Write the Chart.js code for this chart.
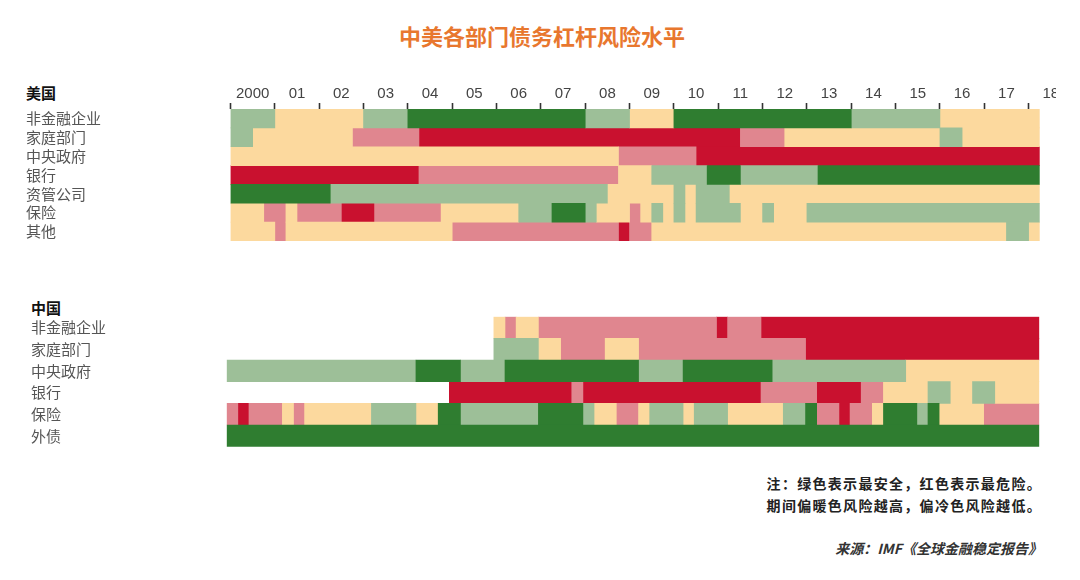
<!DOCTYPE html>
<html>
<head>
<meta charset="utf-8">
<script src="https://cdn.jsdelivr.net/npm/chart.js@4.4.1/dist/chart.umd.min.js"></script>
<style>
  html,body{margin:0;padding:0;background:#fff;}
  body{width:1080px;height:580px;position:relative;overflow:hidden;font-family:"Noto Sans CJK SC","Noto Sans",sans-serif;}
  .abs{position:absolute;white-space:nowrap;}
  #title{left:342px;width:400px;top:20px;text-align:center;font-size:22px;line-height:30px;font-weight:bold;color:#e8772e;}
  .country{font-size:15px;font-weight:bold;color:#111;line-height:20px;}
  .note{right:38px;font-size:14px;font-weight:bold;color:#222;line-height:20px;letter-spacing:1.3px;text-align:right;}
  #source{right:38px;top:538px;font-size:14px;font-weight:bold;font-style:italic;color:#333;line-height:20px;}
  canvas{position:absolute;left:0;}
</style>
</head>
<body>
<div id="title" class="abs">中美各部门债务杠杆风险水平</div>
<div class="abs country" style="left:26px;top:83px;">美国</div>
<div class="abs country" style="left:31px;top:298px;">中国</div>
<canvas id="us" width="1056" height="250" style="top:0;"></canvas>
<canvas id="cn" width="1056" height="160" style="top:300px;"></canvas>
<div class="abs note" style="top:473px;">注：绿色表示最安全，红色表示最危险。</div>
<div class="abs note" style="top:495px;">期间偏暖色风险越高，偏冷色风险越低。</div>
<div id="source" class="abs">来源：IMF《全球金融稳定报告》</div>

<script>
// ---- Data: quarterly risk level, 2000Q1 .. 2018Q1 (73 quarters)
// 1 = dark green (safest), 2 = light green, 3 = light yellow, 4 = pink, 5 = red (most risky), null = no data
const START_YEAR = 2000;
const YEARS = [2000,2001,2002,2003,2004,2005,2006,2007,2008,2009,2010,2011,2012,2013,2014,2015,2016,2017,2018];
const YEAR_LABELS = ['2000','01','02','03','04','05','06','07','08','09','10','11','12','13','14','15','16','17','18'];
const LEVEL_COLORS = ['#2f7d30','#9dbf98','#fcd99e','#e0868f','#c9112f'];

const US_ROWS = ['非金融企业','家庭部门','中央政府','银行','资管公司','保险','其他'];
const CN_ROWS = ['非金融企业','家庭部门','中央政府','银行','保险','外债'];

const _ = null;
const usNonFinancial = [2,2,2,2, 3,3,3,3, 3,3,3,3, 2,2,2,2, 1,1,1,1, 1,1,1,1, 1,1,1,1, 1,1,1,1, 2,2,2,2, 3,3,3,3, 1,1,1,1, 1,1,1,1, 1,1,1,1, 1,1,1,1, 2,2,2,2, 2,2,2,2, 3,3,3,3, 3,3,3,3, 3];
const usHousehold   = [2,2,3,3, 3,3,3,3, 3,3,3,4, 4,4,4,4, 4,5,5,5, 5,5,5,5, 5,5,5,5, 5,5,5,5, 5,5,5,5, 5,5,5,5, 5,5,5,5, 5,5,4,4, 4,4,3,3, 3,3,3,3, 3,3,3,3, 3,3,3,3, 2,2,3,3, 3,3,3,3, 3];
const usGovernment  = [3,3,3,3, 3,3,3,3, 3,3,3,3, 3,3,3,3, 3,3,3,3, 3,3,3,3, 3,3,3,3, 3,3,3,3, 3,3,3,4, 4,4,4,4, 4,4,5,5, 5,5,5,5, 5,5,5,5, 5,5,5,5, 5,5,5,5, 5,5,5,5, 5,5,5,5, 5,5,5,5, 5];
const usBanks       = [5,5,5,5, 5,5,5,5, 5,5,5,5, 5,5,5,5, 5,4,4,4, 4,4,4,4, 4,4,4,4, 4,4,4,4, 4,4,4,3, 3,3,2,2, 2,2,2,1, 1,1,2,2, 2,2,2,2, 2,1,1,1, 1,1,1,1, 1,1,1,1, 1,1,1,1, 1,1,1,1, 1];
const usAssetMgmt   = [1,1,1,1, 1,1,1,1, 1,2,2,2, 2,2,2,2, 2,2,2,2, 2,2,2,2, 2,2,2,2, 2,2,2,2, 2,2,3,3, 3,3,3,3, 2,3,2,2, 2,3,3,3, 3,3,3,3, 3,3,3,3, 3,3,3,3, 3,3,3,3, 3,3,3,3, 3,3,3,3, 3];
const usInsurance   = [3,3,3,4, 4,3,4,4, 4,4,5,5, 5,4,4,4, 4,4,4,3, 3,3,3,3, 3,3,2,2, 2,1,1,1, 2,3,3,3, 4,3,2,3, 2,3,2,2, 2,2,3,3, 2,3,3,3, 2,2,2,2, 2,2,2,2, 2,2,2,2, 2,2,2,2, 2,2,2,2, 2];
const usOther       = [3,3,3,3, 4,3,3,3, 3,3,3,3, 3,3,3,3, 3,3,3,3, 4,4,4,4, 4,4,4,4, 4,4,4,4, 4,4,4,5, 4,4,3,3, 3,3,3,3, 3,3,3,3, 3,3,3,3, 3,3,3,3, 3,3,3,3, 3,3,3,3, 3,3,3,3, 3,3,2,2, 3];

const cnNonFinancial = [_,_,_,_, _,_,_,_, _,_,_,_, _,_,_,_, _,_,_,_, _,_,_,_, 3,4,3,3, 4,4,4,4, 4,4,4,4, 4,4,4,4, 4,4,4,4, 5,4,4,4, 5,5,5,5, 5,5,5,5, 5,5,5,5, 5,5,5,5, 5,5,5,5, 5,5,5,5, 5];
const cnHousehold    = [_,_,_,_, _,_,_,_, _,_,_,_, _,_,_,_, _,_,_,_, _,_,_,_, 2,2,2,2, 3,3,4,4, 4,4,3,3, 3,4,4,4, 4,4,4,4, 4,4,4,4, 4,4,4,4, 5,5,5,5, 5,5,5,5, 5,5,5,5, 5,5,5,5, 5,5,5,5, 5];
const cnGovernment   = [2,2,2,2, 2,2,2,2, 2,2,2,2, 2,2,2,2, 2,1,1,1, 1,2,2,2, 2,1,1,1, 1,1,1,1, 1,1,1,1, 1,2,2,2, 2,1,1,1, 1,1,1,1, 1,2,2,2, 2,2,2,2, 2,2,2,2, 2,3,3,3, 3,3,3,3, 3,3,3,3, 3];
const cnBanks        = [_,_,_,_, _,_,_,_, _,_,_,_, _,_,_,_, _,_,_,_, 5,5,5,5, 5,5,5,5, 5,5,5,4, 5,5,5,5, 5,5,5,5, 5,5,5,5, 5,5,5,5, 4,4,4,4, 4,5,5,5, 5,4,4,3, 3,3,3,2, 2,3,3,2, 2,3,3,3, 3];
const cnInsurance    = [4,5,4,4, 4,3,4,3, 3,3,3,3, 3,2,2,2, 2,3,3,1, 1,2,2,2, 2,2,2,2, 1,1,1,1, 2,3,3,4, 4,3,2,2, 2,3,2,2, 2,3,3,3, 3,3,2,2, 1,4,4,5, 4,4,3,1, 1,1,2,1, 3,3,3,3, 4,4,4,4, 4];
const cnExternalDebt = [1,1,1,1, 1,1,1,1, 1,1,1,1, 1,1,1,1, 1,1,1,1, 1,1,1,1, 1,1,1,1, 1,1,1,1, 1,1,1,1, 1,1,1,1, 1,1,1,1, 1,1,1,1, 1,1,1,1, 1,1,1,1, 1,1,1,1, 1,1,1,1, 1,1,1,1, 1,1,1,1, 1];

const US_SERIES = [usNonFinancial, usHousehold, usGovernment, usBanks, usAssetMgmt, usInsurance, usOther];
const CN_SERIES = [cnNonFinancial, cnHousehold, cnGovernment, cnBanks, cnInsurance, cnExternalDebt];

// ---- Build floating-bar datasets (one per risk level) from the quarterly arrays
function buildDatasets(rows, series) {
  const sets = LEVEL_COLORS.map((c, k) => ({
    label: 'L' + (k + 1), data: [], backgroundColor: c, borderWidth: 0,
    grouped: false, barPercentage: 1, categoryPercentage: 1
  }));
  series.forEach((arr, r) => {
    let i = 0;
    while (i < arr.length) {
      const v = arr[i];
      let j = i;
      while (j < arr.length && arr[j] === v) j++;
      if (v != null) {
        sets[v - 1].data.push({ y: rows[r], x: [START_YEAR + i / 4, START_YEAR + j / 4] });
      }
      i = j;
    }
  });
  return sets;
}

Chart.defaults.font.family = '"Noto Sans CJK SC","Noto Sans",sans-serif';
Chart.defaults.animation = false;

const X_MIN = 2000, X_MAX = 2018.25;
const labelFont = { family: '"Noto Sans CJK SC","Noto Sans",sans-serif', size: 15 };

function makeChart(id, rows, series, opts) {
  return new Chart(document.getElementById(id), {
    type: 'bar',
    data: { labels: rows, datasets: buildDatasets(rows, series) },
    options: {
      responsive: false,
      indexAxis: 'y',
      layout: { padding: opts.padding },
      plugins: { legend: { display: false }, tooltip: { enabled: false }, title: { display: false } },
      scales: {
        x: {
          type: 'linear', position: 'top', min: X_MIN, max: X_MAX,
          display: opts.showX,
          afterBuildTicks: s => { s.ticks = YEARS.map(v => ({ value: v })); },
          afterFit: s => { s.height = opts.showX ? 40 : 0; },
          ticks: {
            autoSkip: false, maxRotation: 0, minRotation: 0,
            labelOffset: opts.labelOffset, padding: 0,
            color: '#444', font: { family: '"Liberation Sans",Arial,sans-serif', size: 15 },
            callback: (v, i) => YEAR_LABELS[i]
          },
          grid: { drawOnChartArea: false, drawTicks: true, tickLength: 6, tickColor: '#333', tickWidth: 1.6 },
          border: { display: false }
        },
        y: {
          type: 'category', offset: true,
          afterFit: s => { s.width = opts.yWidth; },
          grid: { display: false }, border: { display: false },
          ticks: { autoSkip: false, crossAlign: 'far', padding: 0, color: '#555', font: labelFont }
        }
      }
    }
  });
}

// US panel: plot area x 230.5..1039.7, y 109..241.7
makeChart('us', US_ROWS, US_SERIES, {
  padding: { left: 26, top: 69, right: 16.3, bottom: 8.3 },
  yWidth: 204.5, showX: true, labelOffset: (1039.7 - 230.5) / 18.25 / 2
});
// China panel: plot area x 226.7..1039.3, y 316.7..446.7
makeChart('cn', CN_ROWS, CN_SERIES, {
  padding: { left: 31, top: 16.7, right: 16.7, bottom: 13.3 },
  yWidth: 195.7, showX: false, labelOffset: 0
});
</script>
</body>
</html>
